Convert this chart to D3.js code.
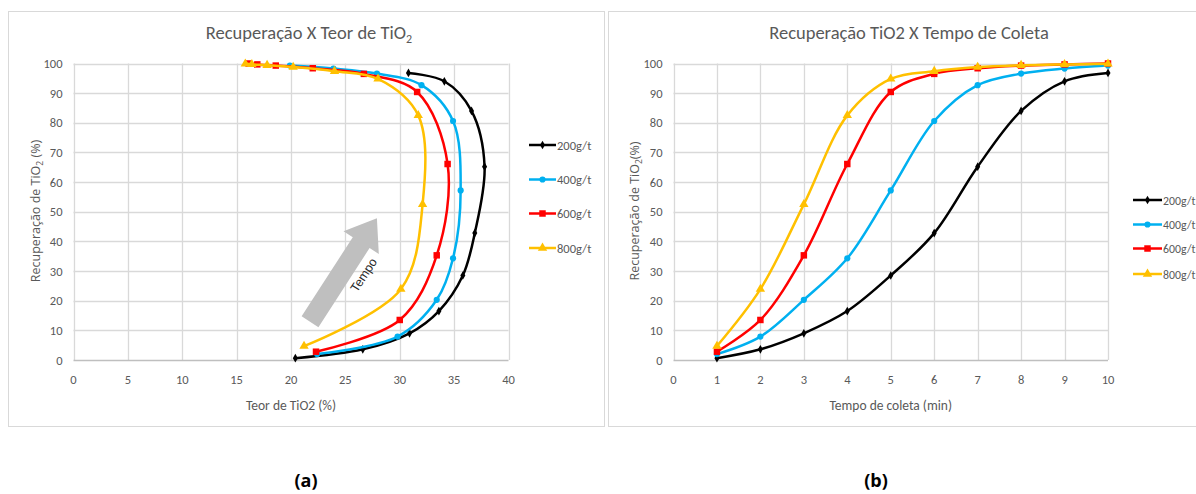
<!DOCTYPE html>
<html lang="pt">
<head>
<meta charset="UTF-8">
<title>Recuperação TiO2</title>
<script src="https://d3js.org/d3.v7.min.js"></script>
<style>
  body { margin: 0; background: #fff; }
  svg text { font-family: Carlito, Calibri, Lato, "Open Sans", sans-serif; }
</style>
</head>
<body>
<div id="chart"></div>
<script>
// data
var series = ["200g/t", "400g/t", "600g/t", "800g/t"];
var colors = ["#000000", "#00b0f0", "#ff0000", "#ffc000"];
var times = [1, 2, 3, 4, 5, 6, 7, 8, 9, 10];

var rec200 = [0.6, 3.6, 9.0, 16.5, 28.5, 42.8, 65.2, 84.0, 94.0, 96.8];
var rec400 = [2.0, 7.9, 20.3, 34.3, 57.2, 80.6, 92.7, 96.6, 98.3, 99.3];
var rec600 = [2.8, 13.5, 35.3, 66.1, 90.4, 96.5, 98.4, 99.3, 99.7, 100];
var rec800 = [4.7, 23.9, 52.5, 82.5, 94.8, 97.4, 98.8, 99.4, 99.7, 99.9];

var teor200 = [20.4, 26.6, 30.9, 33.6, 35.8, 36.9, 37.8, 36.6, 34.1, 30.8];
var teor400 = [22.4, 29.8, 33.4, 34.9, 35.6, 34.9, 32.0, 27.9, 23.9, 19.9];
var teor600 = [22.3, 30.0, 33.4, 34.4, 31.6, 26.7, 22.0, 18.6, 16.9, 16.1];
var teor800 = [21.2, 30.1, 32.1, 31.7, 28.0, 24.0, 20.2, 17.8, 16.4, 15.8];

var xTicksA = [0, 5, 10, 15, 20, 25, 30, 35, 40];
var xTicksB = [0, 1, 2, 3, 4, 5, 6, 7, 8, 9, 10];
var yTicks = [0, 10, 20, 30, 40, 50, 60, 70, 80, 90, 100];

// "Tempo" arrow, in (teor, recuperação) units: tail -> tip
var arrowTail = [21.75, 12.9];
var arrowTip = [27.9, 47.8];

var recs = [rec200, rec400, rec600, rec800];
var teors = [teor200, teor400, teor600, teor800];
var symbols = [d3.symbolDiamond, d3.symbolCircle, d3.symbolSquare, d3.symbolTriangle];
var symSizes = [22, 30, 42, 38];

var W = 1196, H = 494;
var grid = "#d9d9d9", txt = "#595959";

var svg = d3.select("#chart").append("svg")
  .attr("width", W).attr("height", H);

// panel frames
svg.append("rect").attr("x", 8.5).attr("y", 11.5).attr("width", 596).attr("height", 415)
  .attr("fill", "none").attr("stroke", grid);
svg.append("rect").attr("x", 608.5).attr("y", 11.5).attr("width", 600).attr("height", 415)
  .attr("fill", "none").attr("stroke", grid);

function drawChart(opt) {
  var x = d3.scaleLinear().domain(opt.xDomain).range(opt.xRange);
  var y = d3.scaleLinear().domain([0, 100]).range([360, 63.5]);
  var g = svg.append("g");

  // grid
  g.append("g").selectAll("line").data(opt.xTicks).enter().append("line")
    .attr("x1", function(d) { return Math.round(x(d)) + 0.5; })
    .attr("x2", function(d) { return Math.round(x(d)) + 0.5; })
    .attr("y1", y(0)).attr("y2", y(100))
    .attr("stroke", grid).attr("stroke-width", 1.3);
  g.append("g").selectAll("line").data(yTicks).enter().append("line")
    .attr("x1", x(opt.xDomain[0])).attr("x2", x(opt.xDomain[1]))
    .attr("y1", function(d) { return Math.round(y(d)) + 0.5; })
    .attr("y2", function(d) { return Math.round(y(d)) + 0.5; })
    .attr("stroke", function(d) { return d === 0 ? "#bfbfbf" : grid; })
    .attr("stroke-width", 1.3);

  // tick labels
  g.append("g").selectAll("text").data(yTicks).enter().append("text")
    .attr("x", x(opt.xDomain[0]) - 11).attr("y", function(d) { return y(d) + 4.5; })
    .attr("text-anchor", "end").attr("font-size", 12.5).attr("fill", txt)
    .text(function(d) { return d; });
  g.append("g").selectAll("text").data(opt.xTicks).enter().append("text")
    .attr("x", function(d) { return x(d); }).attr("y", 384)
    .attr("text-anchor", "middle").attr("font-size", 12.5).attr("fill", txt)
    .text(function(d) { return d; });

  // optional annotation arrow drawn under the series
  if (opt.arrow) opt.arrow(g, x, y);

  // series
  for (var i = 0; i < series.length; i++) {
    var pts = opt.points(i);
    var line = d3.line()
      .x(function(d) { return x(d[0]); })
      .y(function(d) { return y(d[1]); })
      .curve(d3.curveCatmullRom.alpha(0.5));
    g.append("path").datum(pts)
      .attr("fill", "none").attr("stroke", colors[i]).attr("stroke-width", 2.5)
      .attr("stroke-linejoin", "round")
      .attr("d", line);
    g.append("g").selectAll("path").data(pts).enter().append("path")
      .attr("transform", function(d) { return "translate(" + x(d[0]) + "," + y(d[1]) + ")"; })
      .attr("d", d3.symbol().type(symbols[i]).size(symSizes[i]))
      .attr("fill", colors[i]);
  }

  // title
  var t = g.append("text").attr("x", opt.titleX).attr("y", 39)
    .attr("text-anchor", "middle").attr("font-size", 18.5).attr("fill", txt);
  opt.title(t);

  // axis titles
  g.append("text").attr("x", (opt.xRange[0] + opt.xRange[1]) / 2).attr("y", 410)
    .attr("text-anchor", "middle").attr("font-size", 13.5).attr("fill", txt)
    .text(opt.xLabel);
  var yl = g.append("text")
    .attr("transform", "translate(" + opt.yLabelX + ",211) rotate(-90)")
    .attr("text-anchor", "middle").attr("font-size", 12.5).attr("fill", txt)
    .style("font-family", "'Open Sans', sans-serif");
  yl.append("tspan").text("Recuperação de TiO");
  yl.append("tspan").attr("font-size", 8.5).attr("dy", 3).text("2");
  yl.append("tspan").attr("dy", -3).text(opt.yLabelTail);

  // legend
  var lg = g.append("g").selectAll("g").data(series).enter().append("g")
    .attr("transform", function(d, i) { return "translate(" + opt.legX + "," + opt.legY[i] + ")"; });
  lg.append("line").attr("x1", 0).attr("x2", opt.legW).attr("y1", 0).attr("y2", 0)
    .attr("stroke", function(d, i) { return colors[i]; }).attr("stroke-width", 2.5);
  lg.append("path").attr("transform", "translate(" + opt.legW / 2 + ",0)")
    .attr("d", function(d, i) { return d3.symbol().type(symbols[i]).size(symSizes[i])(); })
    .attr("fill", function(d, i) { return colors[i]; });
  lg.append("text").attr("x", opt.legW + 1).attr("y", 4.5)
    .attr("font-size", opt.legFont).attr("fill", txt).text(function(d) { return d; });
}

// (a) Recuperação x Teor
drawChart({
  xDomain: [0, 40], xRange: [73.5, 508.5], xTicks: xTicksA, titleX: 309,
  points: function(i) { return teors[i].map(function(v, j) { return [v, recs[i][j]]; }); },
  title: function(t) {
    t.append("tspan").text("Recuperação X Teor de TiO");
    t.append("tspan").attr("font-size", 12).attr("dy", 4).text("2");
  },
  xLabel: "Teor de TiO2 (%)", yLabelX: 40, yLabelTail: " (%)",
  legX: 529, legW: 27, legY: [145, 179.5, 213.5, 248], legFont: 12.5,
  arrow: function(g, x, y) {
    var x0 = x(arrowTail[0]), y0 = y(arrowTail[1]);
    var x1 = x(arrowTip[0]), y1 = y(arrowTip[1]);
    var len = Math.hypot(x1 - x0, y1 - y0);
    var ang = Math.atan2(y1 - y0, x1 - x0) * 180 / Math.PI;
    var hw = 10, headW = 21, headL = 29;
    var poly = [[0, -hw], [len - headL, -hw], [len - headL, -headW], [len, 0],
                [len - headL, headW], [len - headL, hw], [0, hw]];
    var a = g.append("g").attr("transform", "translate(" + x0 + "," + y0 + ") rotate(" + ang + ")");
    a.append("polygon").attr("points", poly.map(function(p) { return p.join(","); }).join(" "))
      .attr("fill", "#bfbfbf");
    a.append("text").attr("x", len * 0.555).attr("y", 24)
      .attr("text-anchor", "middle").attr("font-size", 12.5).attr("fill", "#262626")
      .style("font-family", "'Liberation Sans', Arial, sans-serif")
      .text("Tempo");
  }
});

// (b) Recuperação x Tempo
drawChart({
  xDomain: [0, 10], xRange: [673.5, 1108], xTicks: xTicksB, titleX: 909,
  points: function(i) { return times.map(function(v, j) { return [v, recs[i][j]]; }); },
  title: function(t) { t.text("Recuperação TiO2 X Tempo de Coleta"); },
  xLabel: "Tempo de coleta (min)", yLabelX: 639, yLabelTail: "(%)",
  legX: 1133, legW: 29, legY: [200, 224.5, 248.5, 274], legFont: 11.8
});

// panel captions
svg.append("text").attr("x", 306).attr("y", 487).attr("text-anchor", "middle")
  .attr("font-size", 18).attr("font-weight", "bold").attr("fill", "#000")
  .style("font-family", "'Open Sans', sans-serif").text("(a)");
svg.append("text").attr("x", 876).attr("y", 487).attr("text-anchor", "middle")
  .attr("font-size", 18).attr("font-weight", "bold").attr("fill", "#000")
  .style("font-family", "'Open Sans', sans-serif").text("(b)");
</script>
</body>
</html>
